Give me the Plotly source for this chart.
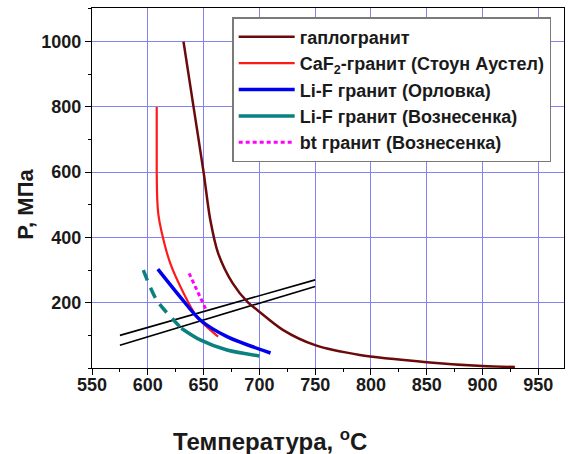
import plotly.graph_objects as go

# Data
haplo_T = [632, 641, 650, 656, 663, 676, 690, 698, 721, 750, 790, 850, 900, 929]
haplo_P = [1000, 800, 600, 454, 352, 260, 200, 178, 117, 70, 40, 18, 6, 3]

caf2_T = [608, 608, 608.5, 609.5, 612, 620, 632, 644, 663]
caf2_P = [800, 600, 515, 470, 423, 322, 230, 157, 96]

orlovka_T = [609, 629, 647, 671, 710]
orlovka_P = [303, 218, 147, 96, 46]

vozn_dash_T = [596, 608, 630]
vozn_dash_P = [300, 208, 122]
vozn_solid_T = [630, 647, 671, 700]
vozn_solid_P = [122, 86, 55, 37]

bt_T = [637, 652]
bt_P = [290, 180]

black1_T = [575, 750]
black1_P = [100, 270]
black2_T = [575, 750]
black2_P = [70, 250]

x_ticks = [550, 600, 650, 700, 750, 800, 850, 900, 950]
y_ticks = [200, 400, 600, 800, 1000]

x_title = "Температура, <sup>o</sup>C"
y_title = "P, МПа"

FONT = "Liberation Sans, Arial, sans-serif"
TXT = "#1a1a1a"

fig = go.Figure()
fig.add_trace(go.Scatter(x=black1_T, y=black1_P, mode="lines",
                         line=dict(color="black", width=1.6), showlegend=False))
fig.add_trace(go.Scatter(x=black2_T, y=black2_P, mode="lines",
                         line=dict(color="black", width=1.6), showlegend=False))
fig.add_trace(go.Scatter(x=haplo_T, y=haplo_P, mode="lines", name="гаплогранит",
                         line=dict(color="#6b0a0a", width=2.5, shape="spline", smoothing=0.8)))
fig.add_trace(go.Scatter(x=caf2_T, y=caf2_P, mode="lines",
                         name="CaF<sub>2</sub>-гранит (Стоун Аустел)",
                         line=dict(color="#ff1a1a", width=2.2, shape="spline", smoothing=0.8)))
fig.add_trace(go.Scatter(x=orlovka_T, y=orlovka_P, mode="lines",
                         name="Li-F гранит (Орловка)",
                         line=dict(color="#0000ee", width=3.5, shape="spline", smoothing=0.8)))
fig.add_trace(go.Scatter(x=vozn_solid_T, y=vozn_solid_P, mode="lines",
                         name="Li-F гранит (Вознесенка)",
                         line=dict(color="#0a8080", width=3.5, shape="spline", smoothing=0.8)))
fig.add_trace(go.Scatter(x=vozn_dash_T, y=vozn_dash_P, mode="lines", showlegend=False,
                         line=dict(color="#0a8080", width=3.5, dash="11px,8px",
                                   shape="spline", smoothing=0.8)))
fig.add_trace(go.Scatter(x=bt_T, y=bt_P, mode="lines",
                         name="bt гранит (Вознесенка)",
                         line=dict(color="#ff00ff", width=3, dash="4px,3px")))

axis_common = dict(
    showline=True, linecolor="black", linewidth=1.2, mirror=True,
    ticks="outside", ticklen=6, tickwidth=1.2, tickcolor="black",
    showgrid=True, gridcolor="#8484f0", gridwidth=1,
    zeroline=False, automargin=False,
    tickfont=dict(family=FONT, size=18, color=TXT, weight="bold"),
    minor=dict(ticks="outside", ticklen=3, tickcolor="black", showgrid=False),
)

fig.update_xaxes(range=[550, 973], tickvals=x_ticks, minor_dtick=25,
                 ticklabelstandoff=-6, **axis_common)
fig.update_yaxes(range=[0, 1103], tickvals=y_ticks, minor_dtick=100,
                 ticklabelstandoff=0, **axis_common)

fig.add_annotation(text=x_title, xref="paper", yref="paper", x=0.377, y=-0.2,
                   xanchor="center", yanchor="middle", showarrow=False,
                   font=dict(family=FONT, size=24, color=TXT, weight="bold"))
fig.add_annotation(text=y_title, xref="paper", yref="paper", x=-0.14, y=0.456,
                   xanchor="center", yanchor="middle", showarrow=False, textangle=-90,
                   font=dict(family=FONT, size=22, color=TXT, weight="bold"))

fig.update_layout(
    width=568, height=454,
    margin=dict(l=92, r=4, t=8, b=86),
    plot_bgcolor="white", paper_bgcolor="white",
    legend=dict(x=0.297, y=0.975, xanchor="left", yanchor="top",
                bgcolor="white", bordercolor="#7a7a7a", borderwidth=1.5,
                font=dict(family=FONT, size=18, color=TXT, weight="bold"),
                tracegroupgap=0, itemwidth=56),
)

fig.write_html("out.html", config={"displayModeBar": False},
               post_script="document.body.style.margin='0px';")
